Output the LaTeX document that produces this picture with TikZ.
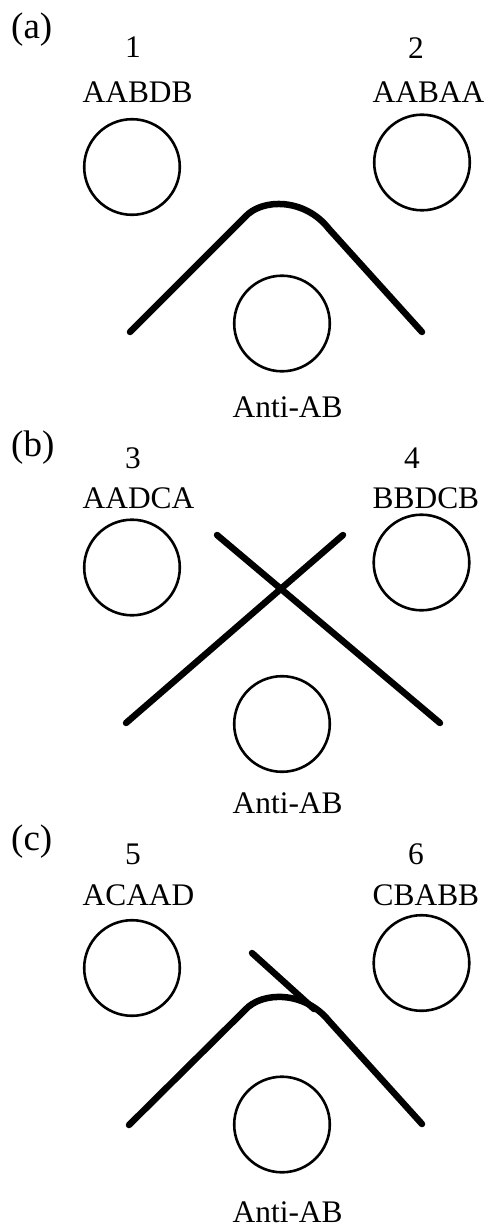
\documentclass[tikz,border=0pt]{standalone}
\usepackage{fontspec}
\setmainfont{Liberation Serif}
\begin{document}
\begin{tikzpicture}[x=1pt,y=-1pt,
  cell/.style={circle,draw,line width=2.6pt,minimum size=95.6pt,inner sep=0pt},
  seqtext/.style={anchor=base west,inner sep=0pt,font=\fontsize{31.4}{36}\selectfont},
  numtext/.style={anchor=base,inner sep=0pt,font=\fontsize{31.4}{36}\selectfont},
  paneltext/.style={anchor=base west,inner sep=0pt,font=\fontsize{37}{42}\selectfont},
  bond/.style={line width=6.5pt,line cap=round,line join=round}]
\useasboundingbox (0,0) rectangle (488,1230);

% ---------- panel (a) ----------
\node[paneltext] (la) at (11,38.3) {(a)};
\node[numtext] (n1) at (133,58) {1};
\node[numtext] (n2) at (416,59) {2};
\node[seqtext] (s1) at (82.5,103) {AABDB};
\node[seqtext] (s2) at (372.5,103) {AABAA};
\node[cell] (c1) at (132,167) {};
\node[cell] (c2) at (422,162.5) {};
\node[cell] (ca) at (282,323.5) {};
\node[seqtext] (aa) at (232.5,417) {Anti-AB};
\coordinate (aL) at (130,332);
\coordinate (aR) at (422,332);
\draw[bond] (aL) -- (245,217) .. controls (262,198) and (305,198) .. (329,229) -- (aR);

% ---------- panel (b) ----------
\node[paneltext] (lb) at (11,456.5) {(b)};
\node[numtext] (n3) at (133,468) {3};
\node[numtext] (n4) at (412,468) {4};
\node[seqtext] (s3) at (82.5,508) {AADCA};
\node[seqtext] (s4) at (372.5,508) {BBDCB};
\node[cell] (c3) at (132,567.5) {};
\node[cell] (c4) at (421.5,562.5) {};
\node[cell] (cb) at (282,724) {};
\node[seqtext] (ab) at (232.5,813) {Anti-AB};
\coordinate (bL1) at (126,723);
\coordinate (bR1) at (343,535);
\coordinate (bL2) at (217,535);
\coordinate (bR2) at (440,723);
\draw[bond] (bL1) -- (bR1);
\draw[bond] (bL2) -- (bR2);

% ---------- panel (c) ----------
\node[paneltext] (lc) at (11,850.5) {(c)};
\node[numtext] (n5) at (133,864) {5};
\node[numtext] (n6) at (416,864) {6};
\node[seqtext] (s5) at (82.5,905) {ACAAD};
\node[seqtext] (s6) at (372.5,905) {CBABB};
\node[cell] (c5) at (132,968) {};
\node[cell] (c6) at (421.5,963) {};
\node[cell] (cc) at (282,1124.5) {};
\node[seqtext] (ac) at (232.5,1222) {Anti-AB};
\coordinate (cL) at (129,1125);
\coordinate (cR) at (422,1124);
\coordinate (cT) at (252,953);
\coordinate (cM) at (314,1009);
\draw[bond] (cL) -- (245,1010) .. controls (262,991) and (305,991) .. (329,1021) -- (cR);
\draw[bond] (cT) -- (cM);
\end{tikzpicture}
\end{document}
